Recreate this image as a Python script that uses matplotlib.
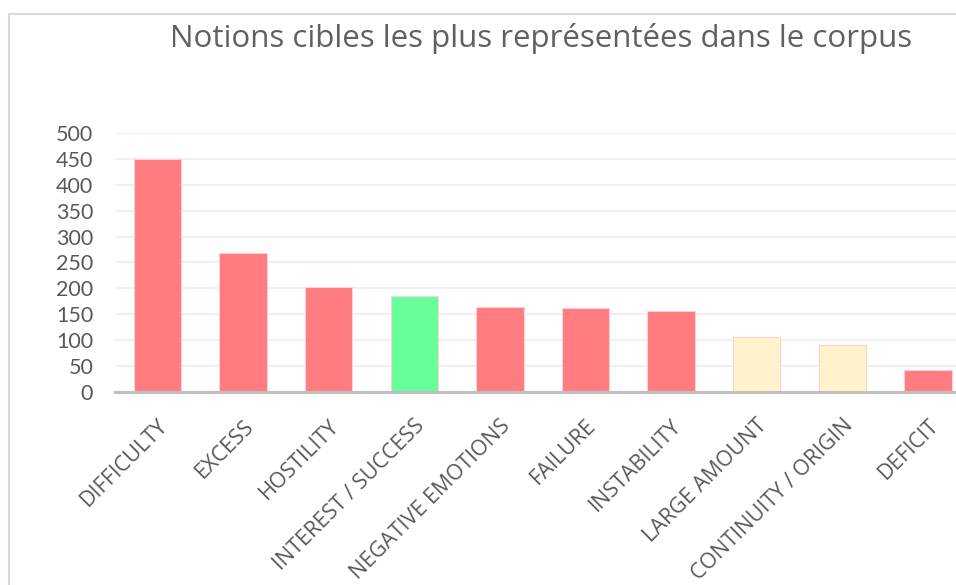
import matplotlib
matplotlib.use("Agg")
import matplotlib.pyplot as plt
from matplotlib.patches import Rectangle

categories = ["DIFFICULTY", "EXCESS", "HOSTILITY", "INTEREST / SUCCESS",
              "NEGATIVE EMOTIONS", "FAILURE", "INSTABILITY", "LARGE AMOUNT",
              "CONTINUITY / ORIGIN", "DEFICIT"]
values = [450, 268, 203, 185, 163, 162, 156, 106, 90, 42]
colors = ["#FF7C80", "#FF7C80", "#FF7C80", "#66FF99", "#FF7C80", "#FF7C80",
          "#FF7C80", "#FFF2CC", "#FFF2CC", "#FF7C80"]
yticks = [0, 50, 100, 150, 200, 250, 300, 350, 400, 450, 500]
title = "Notions cibles les plus représentées dans le corpus"

W, H = 956, 585
fig = plt.figure(figsize=(W / 100, H / 100), dpi=100)
fig.patch.set_facecolor("white")

# outer chart border (extends past the cropped right/bottom edges)
fig.patches.append(Rectangle((9 / W, -0.1), 1.1, 1 - 14 / H + 0.1,
                             transform=fig.transFigure, fill=False,
                             edgecolor="#D9D9D9", linewidth=1.5, clip_on=False))

left, right = 114.7, 970.7
top, bottom = 133.3, 391.7
ax = fig.add_axes([left / W, 1 - bottom / H, (right - left) / W, (bottom - top) / H])
ax.set_facecolor("none")

x = list(range(len(categories)))
ax.bar(x, values, width=0.556, color=colors, edgecolor="#FFD0D2", linewidth=0.8, zorder=3)
ax.set_xlim(-0.5, len(categories) - 0.5)
ax.set_ylim(0, 500)
ax.set_yticks(yticks)
ax.set_yticklabels([str(v) for v in yticks])
ax.yaxis.grid(True, color="#F0F0F0", linewidth=1.5, zorder=0)
ax.set_axisbelow(True)
for s in ["top", "right", "left"]:
    ax.spines[s].set_visible(False)
ax.spines["bottom"].set_color("#BFBFBF")
ax.spines["bottom"].set_linewidth(2.2)
ax.spines["bottom"].set_zorder(4)
ax.tick_params(axis="both", length=0, colors="#595959", labelsize=15.5)
ax.tick_params(axis="y", pad=15.5)
for lab in ax.get_yticklabels():
    lab.set_family("Lato")

ax.set_xticks(x)
ax.set_xticklabels(categories, rotation=45, ha="right", va="top",
                   rotation_mode="anchor", family="Open Sans", fontsize=15.5)
ax.tick_params(axis="x", pad=17)

fig.text(541 / W, 1 - 39 / H, title, ha="center", va="center",
         fontsize=22.5, color="#606060", family="Open Sans")

fig.savefig("out.png", dpi=100)
